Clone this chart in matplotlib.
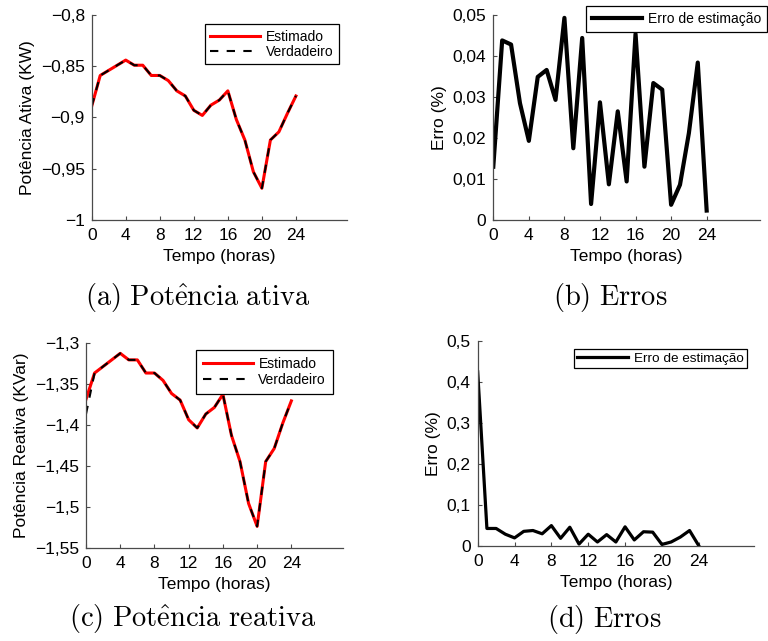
import matplotlib
matplotlib.use("Agg")
import matplotlib.pyplot as plt
from matplotlib.ticker import FuncFormatter, FixedLocator

plt.rcParams['font.family'] = ['Liberation Sans', 'DejaVu Sans']
plt.rcParams['mathtext.fontset'] = 'cm'

hours = list(range(25))

p_est = [-0.889, -0.859, -0.854, -0.849, -0.844, -0.849, -0.849, -0.859, -0.859,
         -0.864, -0.874, -0.879, -0.893, -0.898, -0.888, -0.883, -0.874, -0.902,
         -0.922, -0.953, -0.969, -0.922, -0.914, -0.896, -0.879]
p_true = [-0.889, -0.859, -0.854, -0.849, -0.844, -0.849, -0.849, -0.859, -0.859,
          -0.864, -0.874, -0.879, -0.893, -0.898, -0.888, -0.883, -0.874, -0.902,
          -0.922, -0.953, -0.969, -0.922, -0.914, -0.896, -0.879]
p_err = [0.0130, 0.0438, 0.0428, 0.0285, 0.0193, 0.0349, 0.0366, 0.0293, 0.0493,
         0.0175, 0.0444, 0.0039, 0.0287, 0.0087, 0.0265, 0.0094, 0.0454, 0.0130,
         0.0334, 0.0318, 0.0037, 0.0086, 0.0212, 0.0384, 0.0023]

q_est = [-1.369, -1.337, -1.329, -1.321, -1.313, -1.321, -1.321, -1.337, -1.337,
         -1.346, -1.362, -1.370, -1.394, -1.404, -1.387, -1.379, -1.363, -1.413,
         -1.445, -1.496, -1.524, -1.445, -1.429, -1.398, -1.371]
q_true = [-1.387, -1.337, -1.329, -1.321, -1.313, -1.321, -1.321, -1.337, -1.337,
          -1.346, -1.362, -1.370, -1.394, -1.404, -1.387, -1.379, -1.363, -1.413,
          -1.445, -1.496, -1.524, -1.445, -1.429, -1.398, -1.371]
q_err = [0.424, 0.042, 0.042, 0.028, 0.019, 0.035, 0.037, 0.029, 0.049, 0.018,
         0.045, 0.004, 0.028, 0.009, 0.027, 0.009, 0.046, 0.014, 0.034, 0.033,
         0.003, 0.009, 0.021, 0.037, 0.000]

xticks = [0, 4, 8, 12, 16, 20, 24]
p_yticks = [-1.0, -0.95, -0.9, -0.85, -0.8]
pe_yticks = [0, 0.01, 0.02, 0.03, 0.04, 0.05]
q_yticks = [-1.55, -1.5, -1.45, -1.4, -1.35, -1.3]
qe_yticks = [0, 0.1, 0.2, 0.3, 0.4, 0.5]

captions = [r'$\mathrm{(a)\ Pot\hat{e}ncia\ ativa}$', r'$\mathrm{(b)\ Erros}$',
            r'$\mathrm{(c)\ Pot\hat{e}ncia\ reativa}$', r'$\mathrm{(d)\ Erros}$']


def fmt(v, pos):
    s = ('%g' % round(v, 4)).replace('.', ',').replace('-', '\u2212')
    return s


AX_COLOR = '#4a4a4a'


def style(ax, yticks, ylabel):
    ax.set_xlim(0, 30)
    ax.set_ylim(yticks[0], yticks[-1])
    ax.xaxis.set_major_locator(FixedLocator(xticks))
    ax.yaxis.set_major_locator(FixedLocator(yticks))
    ax.yaxis.set_major_formatter(FuncFormatter(fmt))
    ax.spines['top'].set_visible(False)
    ax.spines['right'].set_visible(False)
    for s in ('left', 'bottom'):
        ax.spines[s].set_color(AX_COLOR)
        ax.spines[s].set_linewidth(0.9)
    ax.tick_params(direction='in', length=3, width=0.8, color=AX_COLOR,
                   labelsize=12.5)
    ax.tick_params(axis='x', pad=6)
    ax.tick_params(axis='y', pad=5)
    ax.set_xlabel('Tempo (horas)', fontsize=12.5, labelpad=4)
    ax.set_ylabel(ylabel, fontsize=12.5, labelpad=4)


fig = plt.figure(figsize=(7.68, 6.41), dpi=100)

ax_a = fig.add_axes([0.1194, 0.6568, 0.3324, 0.3198])
ax_b = fig.add_axes([0.6423, 0.6568, 0.3473, 0.3198])
ax_c = fig.add_axes([0.1120, 0.1456, 0.3342, 0.3198])
ax_d = fig.add_axes([0.6220, 0.1487, 0.3598, 0.3198])

leg_kw = dict(fontsize=10, fancybox=False, framealpha=1, edgecolor='black',
              handlelength=3.6, handletextpad=0.4, borderpad=0.35,
              labelspacing=0.15, borderaxespad=0)

DASH = (0, (4.0, 4.0))

# (a)
ax_a.plot(hours, p_est, color='red', lw=2.2, label='Estimado')
ax_a.plot(hours, p_true, color='black', lw=1.5, ls=DASH, label='Verdadeiro')
style(ax_a, p_yticks, 'Potência Ativa (KW)')
lg = ax_a.legend(loc='upper right', bbox_to_anchor=(0.4414, 0.9626),
                 bbox_transform=fig.transFigure, **dict(leg_kw, borderpad=0.4,
                                                        labelspacing=0.1))
lg.get_frame().set_linewidth(0.9)

# (b)
ax_b.plot(hours, p_err, color='black', lw=3.0, label='Erro de estimação')
style(ax_b, pe_yticks, 'Erro (%)')
lg = ax_b.legend(loc='upper right', bbox_to_anchor=(0.9990, 0.9911),
                 bbox_transform=fig.transFigure, **dict(leg_kw, borderpad=0.45))
lg.get_frame().set_linewidth(0.9)

# (c)
ax_c.plot(hours, q_est, color='red', lw=2.2, label='Estimado')
ax_c.plot(hours, q_true, color='black', lw=1.5, ls=DASH, label='Verdadeiro')
style(ax_c, q_yticks, 'Potência Reativa (KVar)')
lg = ax_c.legend(loc='upper right', bbox_to_anchor=(0.4336, 0.4540),
                 bbox_transform=fig.transFigure, **dict(leg_kw, borderpad=0.5,
                                                        labelspacing=0.15))
lg.get_frame().set_linewidth(0.9)

# (d)
ax_d.plot(hours, q_err, color='black', lw=2.3, label='Erro de estimação')
style(ax_d, qe_yticks, 'Erro (%)')
lg = ax_d.legend(loc='upper right', bbox_to_anchor=(0.9727, 0.4555),
                 bbox_transform=fig.transFigure,
                 **dict(leg_kw, borderpad=0.25, fontsize=9.7, handlelength=3.8))
lg.get_frame().set_linewidth(0.9)

# captions
cap_pos = [(198, 298), (610, 298), (193, 619), (604, 619)]
for (x, y), c in zip(cap_pos, captions):
    fig.text(x / 768, 1 - y / 641, c, fontsize=20.5, ha='center', va='center')

fig.savefig('out.png', dpi=100)
